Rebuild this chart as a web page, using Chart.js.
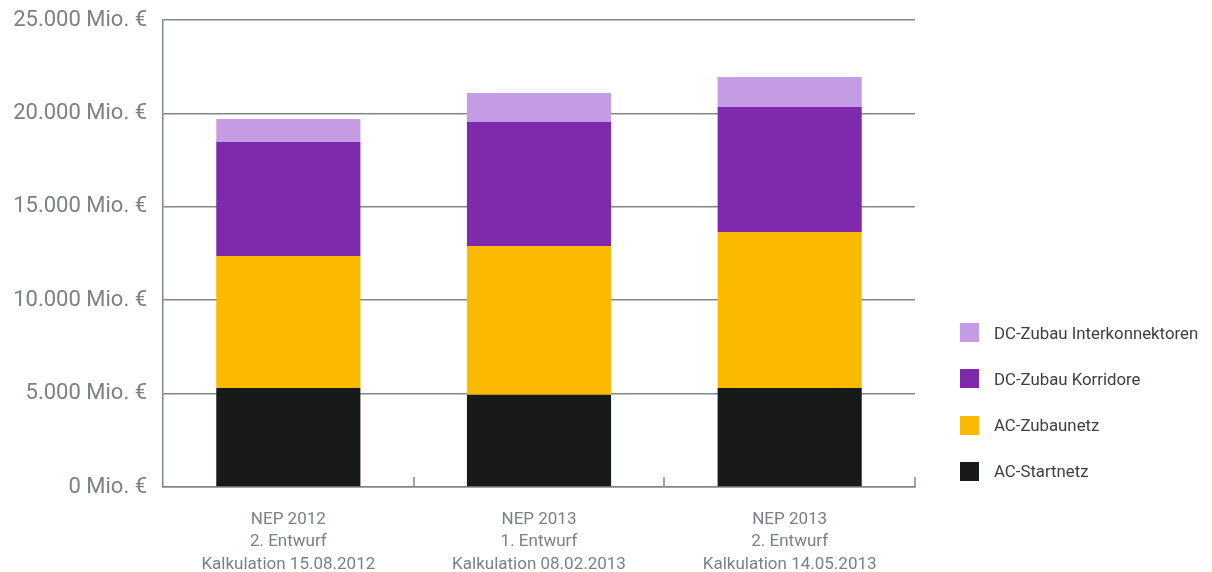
<!DOCTYPE html>
<html lang="de">
<head>
<meta charset="utf-8">
<title>Investitionsvolumen NEP</title>
<script src="https://cdn.jsdelivr.net/npm/chart.js@4.4.1/dist/chart.umd.min.js"></script>
<style>
  html, body { margin: 0; padding: 0; background: #fff; }
  #wrap { position: relative; width: 1212px; height: 572px; }
  #legend {
    position: absolute; left: 960px; top: 323px;
    list-style: none; margin: 0; padding: 0;
    font-family: Roboto, "Noto Sans", sans-serif; font-size: 16.8px; color: #3c3f41;
  }
  #legend li { display: flex; align-items: center; height: 19px; margin-bottom: 27.3px; }
  #legend .box { width: 19px; height: 19px; margin-right: 15px; }
</style>
</head>
<body>
<div id="wrap">
  <canvas id="chart" width="1212" height="572"></canvas>
  <ul id="legend"></ul>
</div>
<script>
// Kategorien (mehrzeilige Beschriftung)
const categories = [
  ['NEP 2012', '2. Entwurf', 'Kalkulation 15.08.2012'],
  ['NEP 2013', '1. Entwurf', 'Kalkulation 08.02.2013'],
  ['NEP 2013', '2. Entwurf', 'Kalkulation 14.05.2013']
];

// Werte in Mio. €
const acStartnetz        = [5300, 4940, 5300];
const acZubaunetz        = [7070, 7960, 8350];
const dcKorridore        = [6100, 6640, 6690];
const dcInterkonnektoren = [1230, 1550, 1610];

const seriesNames  = ['AC-Startnetz', 'AC-Zubaunetz', 'DC-Zubau Korridore', 'DC-Zubau Interkonnektoren'];
const seriesColors = ['#181a19', '#fbba00', '#7f29ad', '#c59ce3'];

const yMax = 25000;
const yStep = 5000;

const gridColor = '#80878b';
const labelColor = '#7a8185';

// 25000 -> "25.000 Mio. €"
function formatMio(v) {
  return String(v).replace(/\B(?=(\d{3})+(?!\d))/g, '.') + ' Mio. €';
}

// kleine Striche nach oben an den Kategoriegrenzen
const innerTicks = {
  id: 'innerTicks',
  afterDraw(chart) {
    const x = chart.scales.x;
    const ctx = chart.ctx;
    const step = x.getPixelForValue(1) - x.getPixelForValue(0);
    ctx.save();
    ctx.strokeStyle = gridColor;
    ctx.lineWidth = 1.5;
    for (let i = 0; i < categories.length; i++) {
      const px = Math.round(x.getPixelForValue(i) + step / 2);
      ctx.beginPath();
      ctx.moveTo(px, x.top);
      ctx.lineTo(px, x.top - 10);
      ctx.stroke();
    }
    ctx.restore();
  }
};

const values = [acStartnetz, acZubaunetz, dcKorridore, dcInterkonnektoren];

new Chart(document.getElementById('chart'), {
  type: 'bar',
  data: {
    labels: categories,
    datasets: values.map((data, i) => ({
      label: seriesNames[i],
      data: data,
      backgroundColor: seriesColors[i],
      borderWidth: 0,
      barPercentage: 0.575,
      categoryPercentage: 1
    }))
  },
  options: {
    responsive: false,
    animation: false,
    layout: { padding: { left: 8, right: 297, top: 20, bottom: 0 } },
    plugins: {
      legend: { display: false },
      tooltip: { enabled: false }
    },
    scales: {
      x: {
        stacked: true,
        grid: { display: false },
        border: { display: true, color: gridColor, width: 1.5 },
        ticks: {
          color: labelColor,
          padding: 14,
          font: { family: 'Roboto, "Noto Sans", sans-serif', size: 17, lineHeight: 1.3 },
          maxRotation: 0
        },
        afterFit(scale) { scale.height = 85; }
      },
      y: {
        stacked: true,
        min: 0,
        max: yMax,
        grid: { color: gridColor, lineWidth: 1.5, drawTicks: false },
        border: { display: true, color: gridColor, width: 1.5 },
        ticks: {
          stepSize: yStep,
          padding: 16,
          color: labelColor,
          font: { family: 'Roboto, "Noto Sans", sans-serif', size: 22 },
          callback: v => formatMio(v)
        },
        afterFit(scale) {
          scale.width = 155;
          scale.paddingTop = 0;
          scale.paddingBottom = 0;
        }
      }
    }
  },
  plugins: [innerTicks]
});

// Legende (oberste Reihe zuerst)
const legend = document.getElementById('legend');
for (let i = seriesNames.length - 1; i >= 0; i--) {
  const li = document.createElement('li');
  li.innerHTML = '<span class="box" style="background:' + seriesColors[i] + '"></span>' + seriesNames[i];
  legend.appendChild(li);
}
</script>
</body>
</html>
